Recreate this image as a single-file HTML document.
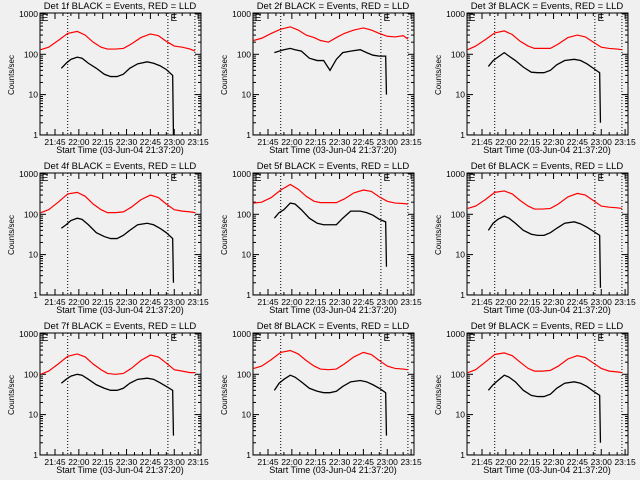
<!DOCTYPE html>
<html><head><meta charset="utf-8"><style>
body{margin:0;background:#f0f0f0;}
svg{display:block;font-family:"Liberation Sans",sans-serif;}
</style></head><body>
<svg id="c" width="640" height="480"></svg>
<script>
const panelTitles=["Det 1f","Det 2f","Det 3f","Det 4f","Det 5f","Det 6f","Det 7f","Det 8f","Det 9f"];
const redTimes=[-9,-4,2,8,14,19,24,29,33,38,43,48,54,60,65,70,75,80,85,88];
const blackTimes=[4,7,10,14,17,21,26,31,35,39,43,47,52,58,62,66,70,74,74.5];
const redValues=[
[130,150,220,330,370,300,200,150,135,135,140,180,260,320,290,210,160,150,135,120],
[220,250,330,420,480,400,300,260,220,200,260,330,400,450,400,330,280,270,290,240],
[130,160,230,340,380,310,210,160,140,140,140,180,260,300,270,200,150,140,135,130],
[110,130,200,320,350,280,180,130,110,110,115,150,230,300,260,180,130,120,115,110],
[190,200,260,400,550,420,280,210,195,195,195,240,340,400,370,270,210,190,185,180],
[140,160,230,350,380,320,220,160,135,135,140,180,270,330,300,220,160,150,145,140],
[100,120,180,280,320,270,180,130,105,100,105,140,220,300,270,190,130,120,110,110],
[140,160,230,350,390,320,220,160,135,130,135,180,270,350,310,220,160,140,135,130],
[110,130,200,310,340,290,200,140,120,120,125,160,240,290,260,190,140,120,115,110]];
const blackValues=[
[45,60,75,85,80,60,45,32,28,28,32,45,58,65,60,52,42,30,1],
[110,120,130,140,130,120,80,70,70,40,75,110,120,130,110,95,90,90,10],
[50,70,85,110,90,70,48,36,35,35,40,55,70,75,70,58,45,35,2],
[45,55,70,80,75,55,35,28,25,25,30,40,55,60,55,45,35,25,2],
[80,110,130,190,180,130,80,60,55,55,55,80,120,120,110,95,75,65,5],
[40,60,75,90,80,60,40,32,30,30,35,45,60,65,58,48,38,30,1.5],
[60,75,90,100,95,75,55,45,40,40,45,60,75,80,75,62,50,40,3],
[40,60,75,95,85,65,45,38,35,35,38,50,65,70,65,55,45,35,3],
[40,55,70,95,85,65,40,30,28,28,32,45,60,65,60,50,38,30,2]];
const xTickLabels=["21:45","22:00","22:15","22:30","22:45","23:00","23:15"];
const xTickMinutes=[0,15,30,45,60,75,90];
const yTickValues=[1,10,100,1000];
const yTickLabels=["1","10","100","1000"];
const dottedMinutes=[8,71,88];
const eMarkMinutes=[-9,72];

const NS="http://www.w3.org/2000/svg";
const svg=document.getElementById('c');
function mk(tag,attrs,parent){const e=document.createElementNS(NS,tag);for(const k in attrs)e.setAttribute(k,attrs[k]);(parent||svg).appendChild(e);return e;}
const colX=[0,213,427],rowY=[0,160,320];
for(let p=0;p<9;p++){
  const ox=colX[p%3],oy=rowY[Math.floor(p/3)];
  const L=ox+40,R=ox+201,T=oy+13,B=oy+135;
  const xs=m=>ox+55+m*1.59;
  const ys=v=>T+1+(3-Math.log10(v))*40.3;
  const g=mk('g',{});
  
  
  const t=mk('text',{x:ox+120,y:oy+9,'text-anchor':'middle','font-size':'9.5'},g);
  t.textContent=panelTitles[p]+" BLACK = Events, RED = LLD";
  
  
  const box=mk('rect',{x:L,y:T,width:R-L,height:B-T,fill:'none',stroke:'#000','stroke-width':1},g);
  
  
  yTickValues.forEach((v,i)=>{
    const y=ys(v);
    mk('line',{x1:L,x2:L+6,y1:y,y2:y,stroke:'#000'},g);
    mk('line',{x1:R,x2:R-6,y1:y,y2:y,stroke:'#000'},g);
    const lb=mk('text',{x:L-2,y:y+3,'text-anchor':'end','font-size':'8.5'},g);
    lb.textContent=yTickLabels[i];
    
    
    if(i<3)for(let k=2;k<10;k++){const yy=ys(v*k);mk('line',{x1:L,x2:L+3,y1:yy,y2:yy,stroke:'#000'},g);mk('line',{x1:R,x2:R-3,y1:yy,y2:yy,stroke:'#000'},g);}
  });
  xTickMinutes.forEach((m,i)=>{
    const x=xs(m);
    if(x<=R+0.5){mk('line',{x1:x,x2:x,y1:B,y2:B-6,stroke:'#000'},g);mk('line',{x1:x,x2:x,y1:T,y2:T+6,stroke:'#000'},g);}
    for(let k=1;k<3;k++){const xx=xs(m-15+5*k);if(xx>L&&xx<R){mk('line',{x1:xx,x2:xx,y1:B,y2:B-3,stroke:'#000'},g);mk('line',{x1:xx,x2:xx,y1:T,y2:T+3,stroke:'#000'},g);}}
    const lb=mk('text',{x:x,y:B+10,'text-anchor':'middle','font-size':'8.5'},g);
    lb.textContent=xTickLabels[i];
    
    
  });
  const xt=mk('text',{x:ox+120,y:oy+153,'text-anchor':'middle','font-size':'9'},g);
  xt.textContent="Start Time (03-Jun-04 21:37:20)";
  
  
  const yt=mk('text',{x:0,y:0,'text-anchor':'middle','font-size':'8',transform:`translate(${ox+14},${oy+75}) rotate(-90)`},g);
  yt.textContent="Counts/sec";
  
  
  dottedMinutes.forEach(m=>{const x=xs(m);const d=mk('line',{x1:x,x2:x,y1:T,y2:B,stroke:'#000','stroke-dasharray':'1,2'},g);});
  eMarkMinutes.forEach(m=>{const x=xs(m)+1;const e=mk('text',{x:x,y:T+8,'font-size':'10'},g);e.textContent="E";});
  const rp=mk('polyline',{points:redTimes.map((m,i)=>xs(m)+','+ys(redValues[p][i])).join(' '),fill:'none',stroke:'#ff0000','stroke-width':1.2},g);
  
  
  const bp=mk('polyline',{points:blackTimes.map((m,i)=>xs(m)+','+ys(blackValues[p][i])).join(' '),fill:'none',stroke:'#000','stroke-width':1.3},g);
  
  
}
</script>
</body></html>
